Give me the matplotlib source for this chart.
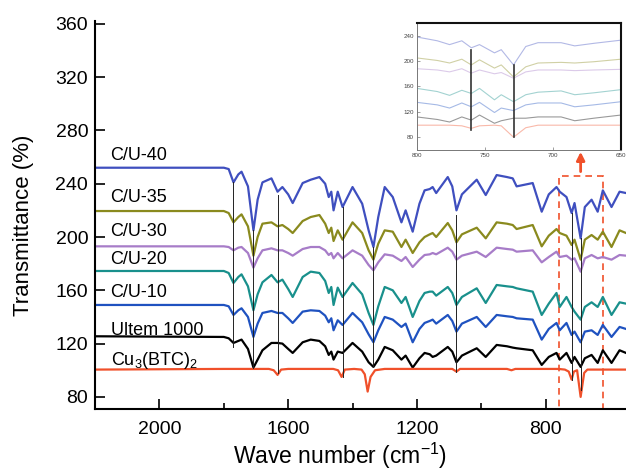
import matplotlib
matplotlib.use('Agg')
import matplotlib.pyplot as plt
from matplotlib.patches import Rectangle

plt.rcParams['font.family'] = ['Liberation Sans', 'DejaVu Sans']
plt.rcParams['mathtext.fontset'] = 'custom'
plt.rcParams['mathtext.rm'] = 'Liberation Sans'
plt.rcParams['mathtext.it'] = 'Liberation Sans'

# wavenumber grid shared by the composite spectra (cm-1)
wn = [2200, 1800, 1785, 1770, 1755, 1745, 1725, 1708, 1695, 1680, 1652, 1633, 1618, 1600, 1586,
      1555, 1530, 1503, 1485, 1474, 1466, 1459, 1446, 1431, 1400, 1370, 1350, 1335, 1320, 1300,
      1275, 1248, 1235, 1213, 1192, 1176, 1160, 1151, 1140, 1104, 1090, 1077, 1060, 1014, 986,
      952, 920, 902, 890, 840, 812, 790, 766, 756, 735, 719, 710, 691, 678, 657, 638, 622, 595,
      570, 550]

cu40 = [252, 252, 251, 241, 247, 249, 238, 205, 228, 241, 244, 234, 237.5, 232, 225.5,
        240.5, 243, 245, 240, 230, 234, 220, 234, 222.5, 237.5, 225, 205, 192.5, 215, 237.5,
        230, 211, 220, 204, 225, 235, 236, 237.5, 233, 245, 238, 220, 232, 243, 231.5,
        246.5, 245, 244, 238, 240.5, 219, 232, 237.5, 234, 230, 218, 225.5, 199, 222.5, 228, 219, 235, 222.5,
        234, 233]
cu35 = [219.5, 219.5, 218, 211, 215, 217, 208, 186, 200, 210, 211, 208, 209, 206, 203,
        212, 215, 216.5, 210, 203, 207, 197, 205, 198, 211, 203, 190, 183, 195, 205,
        204, 192.5, 198, 188, 196, 200, 202, 203, 200, 210.5, 205, 196, 202, 207, 199,
        211, 210, 209, 206, 209, 193, 201, 206, 203, 201, 194, 198, 183, 198, 201.5, 198, 204, 192.5,
        205, 203]
cu30 = [193, 193, 192.5, 190, 192, 192.5, 188, 177, 184, 190, 191.5, 190, 190, 188, 186,
        191, 192.5, 192.5, 190, 186.5, 188, 184, 188, 184, 190, 186, 179, 175, 181, 187,
        186, 182, 185, 177.5, 183, 186.5, 187, 188, 187, 192, 189, 183, 186, 189, 185,
        192, 191, 190.5, 189, 190, 181, 185, 189, 185, 186, 183, 184, 174, 184, 186.5, 184, 185, 183,
        186.5, 186]
cu20 = [174.5, 174.5, 173, 165.5, 170, 172, 163, 145, 157, 166, 171.5, 166, 168, 161, 155,
        170, 174, 173, 167, 158, 162.5, 149, 162, 155, 165.5, 157, 143, 134, 148, 162.5,
        160, 150.5, 155, 140, 152, 158, 159, 159, 156, 162.5, 158, 149, 155, 161.5, 150.5,
        164, 163, 162.5, 161.5, 159, 141.5, 150, 158, 147.5, 155, 147.5, 144, 138, 147.5, 151, 147.5, 155, 141.5,
        151, 150]
cu10 = [149, 149, 148, 141.5, 145, 146.5, 140, 125, 135, 143, 144.5, 143, 143, 139, 135.5,
        144, 145, 144.5, 141, 136, 139, 130, 137.5, 134, 143, 136, 127, 121, 130, 140,
        138, 132.5, 135, 121, 131, 135.5, 137, 138, 135, 141.5, 137, 129, 135, 140, 132.5,
        141.5, 140.5, 140, 139, 138, 123, 131, 135.5, 130, 135.5, 126.5, 129, 121, 129, 130, 126.5, 134, 125,
        132.5, 131]
ultem = [125.5, 125, 124, 120.5, 122, 123, 116, 102, 108, 115, 120.5, 120.5, 120, 116, 113,
         121, 123, 122, 118, 111.5, 114, 108, 114, 113, 120.5, 114, 106, 102.5, 108, 117.5,
         115, 108, 111, 102, 109, 113, 112, 110, 111, 117.5, 114, 106, 111, 116.5, 110,
         119, 118, 117, 116.5, 115, 104, 110, 113, 108, 113, 105.5, 110, 102.5, 109, 111.5, 105.5, 115, 105.5,
         115, 113]

# Cu3(BTC)2 spectrum on its own grid
cu_wn = [2200, 1800, 1660, 1645, 1633, 1622, 1600, 1460, 1445, 1434, 1424, 1395, 1372, 1362, 1353,
         1344, 1330, 1300, 1090, 1077, 1066, 920, 906, 894, 760, 740, 728, 719, 712, 702, 691,
         680, 670, 550]
cubtc = [100.5, 101, 101, 100, 96.5, 100.5, 101, 101, 100, 95, 100.5, 101, 100.5, 97, 84,
         95, 100, 101, 101, 99, 101, 101, 100, 101, 101, 100.5, 99, 93, 99, 100, 80,
         98, 100.5, 100.5]

names = ['C/U-40', 'C/U-35', 'C/U-30', 'C/U-20', 'C/U-10', 'Ultem 1000', r'Cu$_3$(BTC)$_2$']
colors = ['#3f4fbf', '#8a8a1e', '#a77cc8', '#19908c', '#1f52c0', '#000000', '#f0502a']
label_y = [261, 230, 204, 183, 158, 130, 107]

# guide lines: (wavenumber, top, bottom)
guide_wn = [1770, 1708, 1633, 1431, 1335, 1077, 719, 691]
guide_top = [241, 205, 231.5, 222.5, 192.5, 216.5, 218, 199]
guide_bot = [117.5, 102, 98, 95, 102.5, 99, 93, 85]

# inset data (zoomed 800-650 region)
iwn = [800, 785, 776, 767, 760, 754, 743, 738, 729, 720, 711, 694, 684, 670, 650]
inset_vals = [
    [238, 232, 226, 232, 221, 226, 213, 218, 194, 223, 229, 229, 224, 228, 233],
    [205, 201, 197, 203, 194, 202, 189, 194, 175, 191, 197, 198, 197, 199, 203],
    [188, 186, 183, 188, 181, 186, 180, 182, 173, 183, 186, 186, 185, 186, 187],
    [157, 152, 146, 154, 149, 157, 139, 147, 136, 147, 151, 153, 147, 150, 155],
    [135, 131, 126, 134, 128, 135, 119, 126, 122, 131, 134, 134, 128, 131, 136],
    [112, 108, 104, 112, 107, 115, 102, 106, 110, 110, 112, 112, 106, 110, 115],
    [99, 99, 99, 98, 94, 98, 99, 98, 80, 95, 99, 99, 99, 99, 99],
]
inset_guide_wn = [760, 729]
inset_guide_top = [218, 194]
inset_guide_bot = [91, 80]

fig = plt.figure(figsize=(6.26, 4.70), dpi=100)
ax = fig.add_axes([0.152, 0.130, 0.848, 0.825])

series = [cu40, cu35, cu30, cu20, cu10, ultem]
for vals, c in zip(series, colors[:6]):
    ax.plot(wn, vals, color=c, lw=1.6)
ax.plot(cu_wn, cubtc, color=colors[6], lw=1.6)

for name, y in zip(names, label_y):
    ax.text(2152, y, name, fontsize=13, va='center', ha='left')

for x, t, b in zip(guide_wn, guide_top, guide_bot):
    ax.plot([x, x], [b, t], color='#222222', lw=0.7)

# dashed highlight box and arrow
ax.add_patch(Rectangle((622, 71), 759 - 622, 246 - 71, fill=False, ls=(0, (4, 3)),
                       ec='#f0502a', lw=1.2, clip_on=False))
ax.annotate('', xy=(691, 266), xytext=(691, 247),
            arrowprops=dict(arrowstyle='-|>', color='#f0502a', lw=2, mutation_scale=12))

ax.set_xlim(2200, 550)
ax.set_ylim(71, 362)
ax.set_xticks([2000, 1600, 1200, 800])
ax.set_xticks([1800, 1400, 1000], minor=True)
ax.set_yticks([80, 120, 160, 200, 240, 280, 320, 360])
ax.tick_params(direction='in', length=7, width=1.2, labelsize=14)
ax.tick_params(axis='x', pad=9)
ax.tick_params(axis='y', pad=5)
ax.tick_params(which='minor', direction='in', length=4, width=1.2)
ax.spines['top'].set_visible(False)
ax.spines['right'].set_visible(False)
ax.spines['left'].set_linewidth(1.5)
ax.spines['bottom'].set_linewidth(1.5)
ax.set_xlabel('Wave number (cm$^{-1}$)', fontsize=16.5)
ax.set_ylabel('Transmittance (%)', fontsize=16)
ax.xaxis.set_label_coords((340 - 95) / 531, -(441 - 409) / 388)
ax.yaxis.set_label_coords(-(95 - 34) / 531, 0.5 - (225 - 215) / 388)

# inset
ins = fig.add_axes([0.666, 0.681, 0.326, 0.270])
for vals, c in zip(inset_vals, colors):
    ins.plot(iwn, vals, color=c, lw=0.8, alpha=0.4)
for x, t, b in zip(inset_guide_wn, inset_guide_top, inset_guide_bot):
    ins.plot([x, x], [b, t], color='#333333', lw=1.2)
ins.set_xlim(800, 650)
ins.set_ylim(60, 260)
ins.set_xticks([800, 750, 700, 650])
ins.set_yticks([80, 120, 160, 200, 240])
ins.tick_params(direction='in', length=2, width=0.5, labelsize=4.5, labelcolor='#444444',
                color='#777777', pad=2)
for side in ['left', 'bottom']:
    ins.spines[side].set_linewidth(0.7)
    ins.spines[side].set_color('#777777')
for side in ['top', 'right']:
    ins.spines[side].set_linewidth(1.5)
    ins.spines[side].set_color('#111111')

fig.savefig('out.png', dpi=100)
